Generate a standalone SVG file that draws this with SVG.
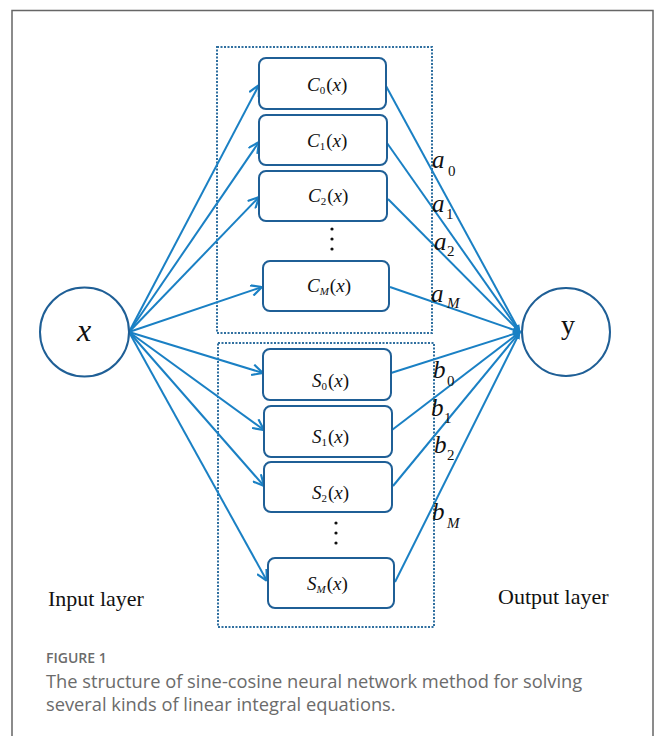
<svg xmlns="http://www.w3.org/2000/svg" width="656" height="736" viewBox="0 0 656 736">
<style>
.frame{fill:none;stroke:#666;stroke-width:1.5}
.dot{fill:none;stroke:#2f6f9f;stroke-width:2;stroke-dasharray:2 1.5}
.box{fill:#fff;stroke:#1f5f96;stroke-width:2}
.circ{fill:#fff;stroke:#1f5f96;stroke-width:2}
.in{stroke:#1a80c4;stroke-width:2;fill:none;marker-end:url(#open)}
.out{stroke:#1a80c4;stroke-width:2;fill:none;marker-end:url(#fill)}
.m{font-family:"Liberation Serif",serif;fill:#111}
.lbl{font-size:19px}
.it{font-style:italic}
.sub{font-size:11px}
.w{font-family:"Liberation Serif",serif;font-size:25px;font-style:italic;fill:#111}
.ws{font-size:15px}
.lay{font-family:"Liberation Serif",serif;font-size:22px;fill:#111}
.cap{font-family:"Open Sans",sans-serif;fill:#6b6b6b}
</style>
<defs>
<marker id="open" markerWidth="12" markerHeight="12" refX="10" refY="5" orient="auto" markerUnits="userSpaceOnUse" viewBox="0 0 10 10">
<path d="M1,0.5 L10,5 L1,9.5" fill="none" stroke="#1a80c4" stroke-width="1.8"/>
</marker>
<marker id="fill" markerWidth="8" markerHeight="8" refX="9" refY="5" orient="auto" markerUnits="userSpaceOnUse" viewBox="0 0 10 10">
<path d="M0,1 L10,5 L0,9 Z" fill="#1a80c4"/>
</marker>
</defs>
<rect class="frame" x="12" y="10.5" width="641" height="740"/>
<rect class="dot" x="217" y="47" width="215" height="286"/>
<rect class="dot" x="218" y="343" width="216" height="284"/>

<g id="connectors">
<line class="in" x1="129" y1="332" x2="259" y2="85"/>
<line class="in" x1="129" y1="332" x2="259" y2="142"/>
<line class="in" x1="129" y1="332" x2="259" y2="197"/>
<line class="in" x1="129" y1="332" x2="262" y2="287"/>
<line class="in" x1="129" y1="332" x2="263" y2="373"/>
<line class="in" x1="129" y1="332" x2="264" y2="430"/>
<line class="in" x1="129" y1="332" x2="264" y2="486"/>
<line class="in" x1="129" y1="332" x2="267" y2="581"/>
<line class="out" x1="386" y1="86" x2="520" y2="332"/>
<line class="out" x1="387" y1="143" x2="520" y2="332"/>
<line class="out" x1="388" y1="199" x2="520" y2="332"/>
<line class="out" x1="390" y1="287" x2="520" y2="332"/>
<line class="out" x1="391" y1="373" x2="520" y2="332"/>
<line class="out" x1="392" y1="430" x2="520" y2="332"/>
<line class="out" x1="393" y1="486" x2="520" y2="332"/>
<line class="out" x1="395" y1="582" x2="520" y2="332"/>
</g>

<g id="node-x"><circle class="circ" cx="84.5" cy="332" r="44.5"/>
<text class="m it" x="84" y="341" font-size="32" text-anchor="middle">x</text></g>
<g id="node-y"><circle class="circ" cx="566" cy="332" r="44"/>
<text class="m" x="568" y="334" font-size="28" text-anchor="middle">y</text></g>

<g id="node-C0"><rect class="box" x="259" y="58" width="127" height="51" rx="7"/>
<text class="m lbl" x="307" y="91"><tspan class="it">C</tspan><tspan class="sub" dy="3">0</tspan><tspan dy="-3" dx="1">(</tspan><tspan class="it">x</tspan>)</text></g>
<g id="node-C1"><rect class="box" x="259" y="115" width="128" height="50" rx="7"/>
<text class="m lbl" x="307" y="147"><tspan class="it">C</tspan><tspan class="sub" dy="3">1</tspan><tspan dy="-3" dx="1">(</tspan><tspan class="it">x</tspan>)</text></g>
<g id="node-C2"><rect class="box" x="259" y="171" width="128" height="50" rx="7"/>
<text class="m lbl" x="308" y="202"><tspan class="it">C</tspan><tspan class="sub" dy="3">2</tspan><tspan dy="-3" dx="1">(</tspan><tspan class="it">x</tspan>)</text></g>
<g id="dots-C"><circle cx="332" cy="229" r="1.6" fill="#111"/><circle cx="332" cy="239" r="1.6" fill="#111"/><circle cx="332" cy="249" r="1.6" fill="#111"/></g>
<g id="node-CM"><rect class="box" x="263" y="261" width="126" height="50" rx="7"/>
<text class="m lbl" x="307" y="292"><tspan class="it">C</tspan><tspan class="sub it" dy="3">M</tspan><tspan dy="-3" dx="1">(</tspan><tspan class="it">x</tspan>)</text></g>

<g id="node-S0"><rect class="box" x="263" y="349" width="128" height="51" rx="7"/>
<text class="m lbl" x="312" y="387"><tspan class="it">S</tspan><tspan class="sub" dy="3">0</tspan><tspan dy="-3" dx="1">(</tspan><tspan class="it">x</tspan>)</text></g>
<g id="node-S1"><rect class="box" x="264" y="406" width="128" height="51" rx="7"/>
<text class="m lbl" x="312" y="443"><tspan class="it">S</tspan><tspan class="sub" dy="3">1</tspan><tspan dy="-3" dx="1">(</tspan><tspan class="it">x</tspan>)</text></g>
<g id="node-S2"><rect class="box" x="264" y="462" width="128" height="50" rx="7"/>
<text class="m lbl" x="312" y="499"><tspan class="it">S</tspan><tspan class="sub" dy="3">2</tspan><tspan dy="-3" dx="1">(</tspan><tspan class="it">x</tspan>)</text></g>
<g id="dots-S"><circle cx="336" cy="523" r="1.6" fill="#111"/><circle cx="336" cy="533" r="1.6" fill="#111"/><circle cx="336" cy="543" r="1.6" fill="#111"/></g>
<g id="node-SM"><rect class="box" x="268" y="558" width="126" height="50" rx="7"/>
<text class="m lbl" x="307" y="590"><tspan class="it">S</tspan><tspan class="sub it" dy="3">M</tspan><tspan dy="-3" dx="1">(</tspan><tspan class="it">x</tspan>)</text></g>

<g id="weights">
<text class="w" x="432" y="168">a<tspan class="ws" x="448" y="176" font-style="normal">0</tspan></text>
<text class="w" x="432" y="212">a<tspan class="ws" x="446" y="219" font-style="normal">1</tspan></text>
<text class="w" x="434" y="250">a<tspan class="ws" x="447" y="256" font-style="normal">2</tspan></text>
<text class="w" x="431" y="302">a<tspan class="ws" x="447" y="308">M</tspan></text>
<text class="w" x="433" y="378">b<tspan class="ws" x="447" y="386" font-style="normal">0</tspan></text>
<text class="w" x="431" y="416">b<tspan class="ws" x="444" y="423" font-style="normal">1</tspan></text>
<text class="w" x="434" y="453">b<tspan class="ws" x="447" y="460" font-style="normal">2</tspan></text>
<text class="w" x="432" y="520">b<tspan class="ws" x="447" y="528">M</tspan></text>
</g>

<text class="lay" x="48" y="606">Input layer</text>
<text class="lay" x="498" y="604">Output layer</text>

<text class="cap" x="46" y="663" font-size="14" font-weight="600">FIGURE 1</text>
<text class="cap" x="46" y="688" font-size="18.3">The structure of sine-cosine neural network method for solving</text>
<text class="cap" x="46" y="711" font-size="18.3">several kinds of linear integral equations.</text>
</svg>
